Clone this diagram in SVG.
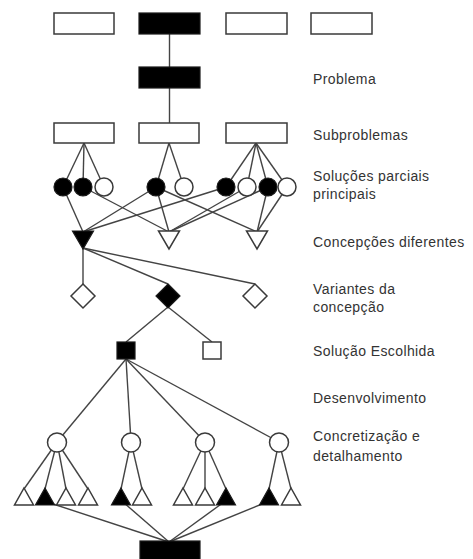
<svg xmlns="http://www.w3.org/2000/svg" width="473" height="559" viewBox="0 0 473 559">
<style>
.w{fill:#fff;stroke:#3a3a3a;stroke-width:1.5}
.b{fill:#000;stroke:#1a1a1a;stroke-width:1.2}
.c line{stroke:#444;stroke-width:1.4}
.t{font-family:"Liberation Sans",Arial,sans-serif;font-size:14px;letter-spacing:0.4px;fill:#333}
</style>
<rect width="473" height="559" fill="#fff"/>
<g id="connectors" class="c">
<line x1="169.5" y1="34" x2="169.5" y2="67"/>
<line x1="169.5" y1="88" x2="169.5" y2="123"/>
<line x1="84" y1="143" x2="63" y2="187"/>
<line x1="84" y1="143" x2="83" y2="187"/>
<line x1="84" y1="143" x2="104" y2="187"/>
<line x1="169" y1="143" x2="156" y2="187"/>
<line x1="169" y1="143" x2="184" y2="187"/>
<line x1="256" y1="143" x2="226" y2="187"/>
<line x1="256" y1="143" x2="247" y2="187"/>
<line x1="256" y1="143" x2="268" y2="187"/>
<line x1="256" y1="143" x2="287" y2="187"/>
<line x1="63" y1="187" x2="83" y2="232"/>
<line x1="83" y1="187" x2="169" y2="232"/>
<line x1="156" y1="187" x2="83" y2="232"/>
<line x1="156" y1="187" x2="169" y2="232"/>
<line x1="156" y1="187" x2="257" y2="232"/>
<line x1="226" y1="187" x2="83" y2="232"/>
<line x1="247" y1="187" x2="169" y2="232"/>
<line x1="268" y1="187" x2="169" y2="232"/>
<line x1="268" y1="187" x2="257" y2="232"/>
<line x1="287" y1="187" x2="257" y2="232"/>
<line x1="83" y1="248" x2="83" y2="284"/>
<line x1="83" y1="248" x2="168" y2="284"/>
<line x1="83" y1="248" x2="255" y2="284"/>
<line x1="168" y1="307" x2="126" y2="342"/>
<line x1="168" y1="307" x2="212" y2="342"/>
<line x1="126" y1="359" x2="57" y2="442"/>
<line x1="126" y1="359" x2="131" y2="442"/>
<line x1="126" y1="359" x2="205" y2="442"/>
<line x1="126" y1="359" x2="279" y2="442"/>
<line x1="57" y1="442" x2="24" y2="489"/>
<line x1="57" y1="442" x2="45" y2="489"/>
<line x1="57" y1="442" x2="66" y2="489"/>
<line x1="57" y1="442" x2="88" y2="489"/>
<line x1="131" y1="442" x2="121" y2="489"/>
<line x1="131" y1="442" x2="142" y2="489"/>
<line x1="205" y1="442" x2="183" y2="489"/>
<line x1="205" y1="442" x2="205" y2="489"/>
<line x1="205" y1="442" x2="226" y2="489"/>
<line x1="279" y1="442" x2="269" y2="489"/>
<line x1="279" y1="442" x2="291" y2="489"/>
<line x1="47" y1="502" x2="169" y2="542"/>
<line x1="123" y1="502" x2="169" y2="542"/>
<line x1="224" y1="502" x2="169" y2="542"/>
<line x1="267" y1="502" x2="169" y2="542"/>
</g>
<g id="top1"><rect class="w" x="54" y="13" width="60" height="21"/></g>
<g id="top2"><rect class="b" x="139" y="13" width="61" height="21"/></g>
<g id="top3"><rect class="w" x="226" y="13" width="61" height="21"/></g>
<g id="top4"><rect class="w" x="311" y="13" width="61" height="21"/></g>
<g id="problema"><rect class="b" x="139" y="67" width="61" height="21"/></g>
<g id="sp1"><rect class="w" x="54" y="123" width="60" height="20"/></g>
<g id="sp2"><rect class="w" x="139" y="123" width="60" height="20"/></g>
<g id="sp3"><rect class="w" x="226" y="123" width="61" height="20"/></g>
<g id="ps1"><circle class="b" cx="63" cy="187" r="9"/></g>
<g id="ps2"><circle class="b" cx="83" cy="187" r="9"/></g>
<g id="ps3"><circle class="w" cx="104" cy="187" r="9"/></g>
<g id="ps4"><circle class="b" cx="156" cy="187" r="9"/></g>
<g id="ps5"><circle class="w" cx="184" cy="187" r="9"/></g>
<g id="ps6"><circle class="b" cx="226" cy="187" r="9"/></g>
<g id="ps7"><circle class="w" cx="247" cy="187" r="9"/></g>
<g id="ps8"><circle class="b" cx="268" cy="187" r="9"/></g>
<g id="ps9"><circle class="w" cx="287" cy="187" r="9"/></g>
<g id="conc1"><polygon class="b" points="72.5,231 93.5,231 83,249"/></g>
<g id="conc2"><polygon class="w" points="158.5,231 179.5,231 169,249"/></g>
<g id="conc3"><polygon class="w" points="246.5,231 267.5,231 257,249"/></g>
<g id="var1"><polygon class="w" points="83,284 95,296 83,308 71,296"/></g>
<g id="var2"><polygon class="b" points="168,284 180,296 168,308 156,296"/></g>
<g id="var3"><polygon class="w" points="255,284 267,296 255,308 243,296"/></g>
<g id="sol1"><rect class="b" x="117" y="342" width="18" height="17"/></g>
<g id="sol2"><rect class="w" x="203" y="342" width="18" height="17"/></g>
<g id="det1"><circle class="w" cx="57" cy="442.5" r="9.5"/></g>
<g id="det2"><circle class="w" cx="131" cy="442.5" r="9.5"/></g>
<g id="det3"><circle class="w" cx="205" cy="442.5" r="9.5"/></g>
<g id="det4"><circle class="w" cx="279" cy="442.5" r="9.5"/></g>
<g id="d1a"><polygon class="w" points="24,488 33.5,505 14.5,505"/></g>
<g id="d1b"><polygon class="b" points="45,488 54.5,505 35.5,505"/></g>
<g id="d1c"><polygon class="w" points="66,488 75.5,505 56.5,505"/></g>
<g id="d1d"><polygon class="w" points="88,488 97.5,505 78.5,505"/></g>
<g id="d2a"><polygon class="b" points="121,488 130.5,505 111.5,505"/></g>
<g id="d2b"><polygon class="w" points="142,488 151.5,505 132.5,505"/></g>
<g id="d3a"><polygon class="w" points="183,488 192.5,505 173.5,505"/></g>
<g id="d3b"><polygon class="w" points="205,488 214.5,505 195.5,505"/></g>
<g id="d3c"><polygon class="b" points="226,488 235.5,505 216.5,505"/></g>
<g id="d4a"><polygon class="b" points="269,488 278.5,505 259.5,505"/></g>
<g id="d4b"><polygon class="w" points="291,488 300.5,505 281.5,505"/></g>
<g id="final"><rect class="b" x="140" y="541" width="60" height="25"/></g>
<g id="labels" class="t">
<text x="313" y="84">Problema</text>
<text x="313" y="140">Subproblemas</text>
<text x="313" y="181">Soluções parciais</text>
<text x="313" y="199">principais</text>
<text x="313" y="247">Concepções diferentes</text>
<text x="313" y="294">Variantes da</text>
<text x="313" y="312">concepção</text>
<text x="313" y="356">Solução Escolhida</text>
<text x="313" y="403">Desenvolvimento</text>
<text x="313" y="441">Concretização e</text>
<text x="313" y="461">detalhamento</text>
</g>
</svg>
